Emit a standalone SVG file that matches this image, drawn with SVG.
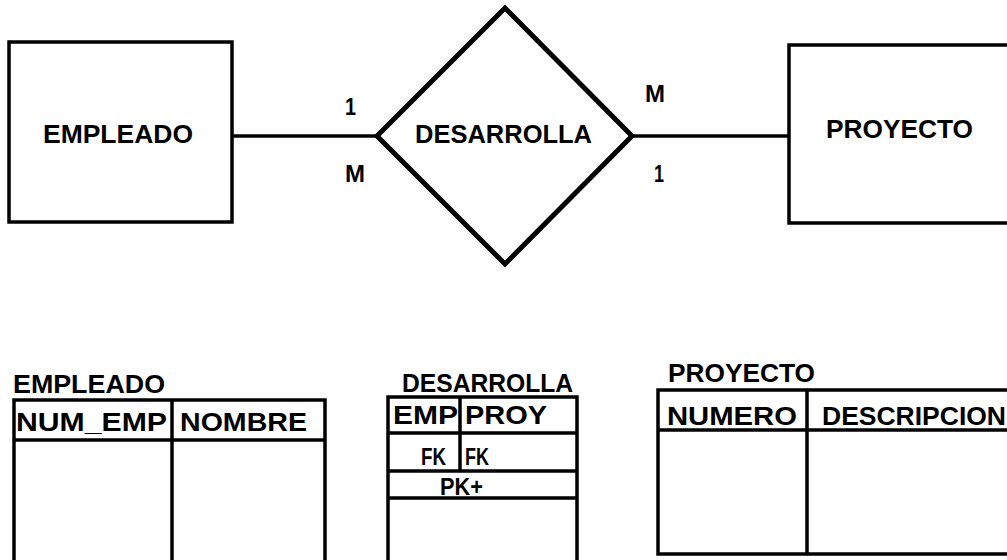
<svg xmlns="http://www.w3.org/2000/svg" width="1007" height="560" viewBox="0 0 1007 560">
<style>
  .bg{fill:#fff}
  .ent{fill:none;stroke:#000;stroke-width:3.5}
  .rel{fill:none;stroke:#000;stroke-width:5;stroke-linejoin:miter}
  .con{stroke:#000;stroke-width:3.5;fill:none}
  .tbl{fill:none;stroke:#000;stroke-width:3.5}
  .t{font-family:"Liberation Sans",Arial,sans-serif;font-weight:bold;fill:#000}
  .er{font-size:25px}
  .card{font-size:24px}
  .h{font-size:26px}
  .ti{font-size:25px}
  .fk{font-size:24px}
</style>
<rect class="bg" x="0" y="0" width="1007" height="560"/>
<g id="connectors">
  <line class="con" x1="232" y1="136" x2="377" y2="136"/>
  <line class="con" x1="632" y1="136" x2="789" y2="136"/>
  <text class="t card" x="345" y="115" textLength="11" lengthAdjust="spacingAndGlyphs">1</text>
  <text class="t card" x="345" y="182" textLength="20" lengthAdjust="spacingAndGlyphs">M</text>
  <text class="t card" x="645" y="102" textLength="20" lengthAdjust="spacingAndGlyphs">M</text>
  <text class="t card" x="654" y="182" textLength="10" lengthAdjust="spacingAndGlyphs">1</text>
</g>
<g id="empleado">
  <rect class="ent" x="9" y="42" width="223" height="180"/>
  <text class="t er" x="43" y="143" textLength="150" lengthAdjust="spacingAndGlyphs">EMPLEADO</text>
</g>
<g id="desarrolla">
  <polygon class="rel" points="377,136 505,8 632,136 505,264"/>
  <text class="t er" x="415" y="143" textLength="177" lengthAdjust="spacingAndGlyphs">DESARROLLA</text>
</g>
<g id="proyecto">
  <path class="ent" d="M1012,45 H789 V223 H1012"/>
  <text class="t er" x="826" y="138" textLength="147" lengthAdjust="spacingAndGlyphs">PROYECTO</text>
</g>
<g id="tabla-empleado">
  <text class="t ti" x="13" y="393" textLength="152" lengthAdjust="spacingAndGlyphs">EMPLEADO</text>
  <path class="tbl" d="M14,570 V400 H325 V570 M14,440 H325 M172,400 V570"/>
  <text class="t h" x="16" y="431" textLength="151" lengthAdjust="spacingAndGlyphs">NUM_EMP</text>
  <text class="t h" x="180" y="431" textLength="127" lengthAdjust="spacingAndGlyphs">NOMBRE</text>
</g>
<g id="tabla-desarrolla">
  <text class="t ti" x="402" y="392" textLength="171" lengthAdjust="spacingAndGlyphs">DESARROLLA</text>
  <path class="tbl" d="M388,570 V397 H577 V570 M388,433 H577 M388,471 H577 M388,498 H577 M460,397 V471"/>
  <text class="t h" x="393" y="424" textLength="65" lengthAdjust="spacingAndGlyphs">EMP</text>
  <text class="t h" x="465" y="424" textLength="82" lengthAdjust="spacingAndGlyphs">PROY</text>
  <text class="t fk" x="421" y="465" textLength="25" lengthAdjust="spacingAndGlyphs">FK</text>
  <text class="t fk" x="465" y="465" textLength="24" lengthAdjust="spacingAndGlyphs">FK</text>
  <text class="t" style="font-size:23px" x="440" y="495" textLength="43" lengthAdjust="spacingAndGlyphs">PK+</text>
</g>
<g id="tabla-proyecto">
  <text class="t ti" x="668" y="382" textLength="147" lengthAdjust="spacingAndGlyphs">PROYECTO</text>
  <path class="tbl" d="M1012,390 H658 V554 H1012 M658,430 H1012 M807,390 V554"/>
  <text class="t h" x="667" y="425" textLength="130" lengthAdjust="spacingAndGlyphs">NUMERO</text>
  <text class="t h" x="822" y="425" textLength="184" lengthAdjust="spacingAndGlyphs">DESCRIPCION</text>
</g>
</svg>
